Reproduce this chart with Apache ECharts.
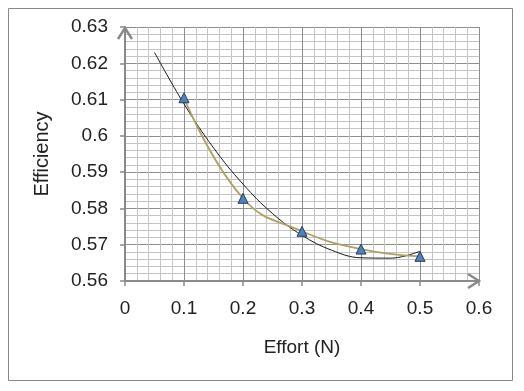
<!DOCTYPE html>
<html><head><meta charset="utf-8">
<script src="https://cdn.jsdelivr.net/npm/echarts@6/dist/echarts.min.js"></script>
<style>html,body{margin:0;padding:0;background:#fff}#c{width:524px;height:391px}</style>
</head><body><div id="c"></div>
<script>
// Measured data points
var effort = [0.1, 0.2, 0.3, 0.4, 0.5];
var efficiency = [0.6105, 0.5828, 0.5737, 0.5688, 0.5668];
// Trendline
var trendX = [0.05, 0.1, 0.15, 0.2, 0.25, 0.3, 0.35, 0.4, 0.45, 0.5];
var trendY = [0.6230, 0.6088, 0.5967, 0.5867, 0.5786, 0.5726, 0.5685, 0.5664, 0.5663, 0.5682];
var xMin = 0, xMax = 0.6, yMin = 0.56, yMax = 0.63;

var FONT = 'Liberation Sans, Arial, sans-serif';

var chart = echarts.init(document.getElementById('c'), null, {renderer: 'canvas'});
chart.setOption({
  backgroundColor: '#fff',
  animation: false,
  graphic: [{
    type: 'rect', left: 8, top: 8, z: -10,
    shape: {x: 0, y: 0, width: 504, height: 372},
    style: {fill: '#fff', stroke: '#888', lineWidth: 1}
  }],
  grid: {left: 125, right: 45, top: 27, bottom: 110},
  xAxis: {
    type: 'value', min: xMin, max: xMax, interval: 0.1,
    name: 'Effort (N)', nameLocation: 'middle', nameGap: 57,
    nameTextStyle: {fontFamily: FONT, fontSize: 19, color: '#222'},
    axisLine: {show: true, lineStyle: {color: '#8a8a8a', width: 2}},
    axisTick: {show: true, length: 5, lineStyle: {color: '#8a8a8a', width: 1.5}},
    axisLabel: {fontFamily: FONT, fontSize: 19, color: '#222', margin: 18},
    splitLine: {show: true, lineStyle: {color: '#8e8e8e', width: 1}},
    minorTick: {show: false, splitNumber: 5},
    minorSplitLine: {show: true, lineStyle: {color: '#c4c4c4', width: 1}}
  },
  yAxis: {
    type: 'value', min: yMin, max: yMax, interval: 0.01,
    name: 'Efficiency', nameLocation: 'middle', nameGap: 73, nameRotate: 90,
    nameTextStyle: {fontFamily: FONT, fontSize: 20, color: '#222'},
    axisLine: {show: true, lineStyle: {color: '#8a8a8a', width: 2}},
    axisTick: {show: true, length: 5, lineStyle: {color: '#8a8a8a', width: 1.5}},
    axisLabel: {fontFamily: FONT, fontSize: 19, color: '#222', margin: 17},
    splitLine: {show: true, lineStyle: {color: '#8e8e8e', width: 1}},
    minorTick: {show: false, splitNumber: 5},
    minorSplitLine: {show: true, lineStyle: {color: '#c4c4c4', width: 1}}
  },
  series: [{
    type: 'line', name: 'Trend',
    data: trendX.map(function (x, i) { return [x, trendY[i]]; }),
    smooth: 0.4, showSymbol: false, symbol: 'none',
    lineStyle: {color: '#1a1a1a', width: 1}, z: 3
  }, {
    type: 'line', name: 'Efficiency',
    data: effort.map(function (x, i) { return [x, efficiency[i]]; }),
    smooth: 0.45, symbol: 'triangle', symbolSize: 10, showSymbol: true,
    lineStyle: {color: '#b0a064', width: 1.8},
    itemStyle: {color: '#4f81bd', borderColor: '#243f60', borderWidth: 1},
    z: 4
  }]
});

// Open chevron arrows at the axis ends, positioned through the axes
var origin = chart.convertToPixel({gridIndex: 0}, [xMin, yMin]);
var yEnd = chart.convertToPixel({gridIndex: 0}, [xMin, yMax]);
var xEnd = chart.convertToPixel({gridIndex: 0}, [xMax, yMin]);
var arrowStyle = {stroke: '#8a8a8a', lineWidth: 2.5, fill: null, lineJoin: 'miter'};
chart.setOption({
  graphic: [{
    type: 'rect', left: 8, top: 8, z: -10,
    shape: {x: 0, y: 0, width: 504, height: 372},
    style: {fill: '#fff', stroke: '#888', lineWidth: 1}
  }, {
    type: 'polyline', z: 50,
    shape: {points: [[yEnd[0] - 7, yEnd[1] + 12], [yEnd[0], yEnd[1] + 1], [yEnd[0] + 7, yEnd[1] + 12]]},
    style: arrowStyle
  }, {
    type: 'polyline', z: 50,
    shape: {points: [[xEnd[0] - 11, xEnd[1] - 7], [xEnd[0], xEnd[1]], [xEnd[0] - 11, xEnd[1] + 7]]},
    style: arrowStyle
  }]
});
</script></body></html>
